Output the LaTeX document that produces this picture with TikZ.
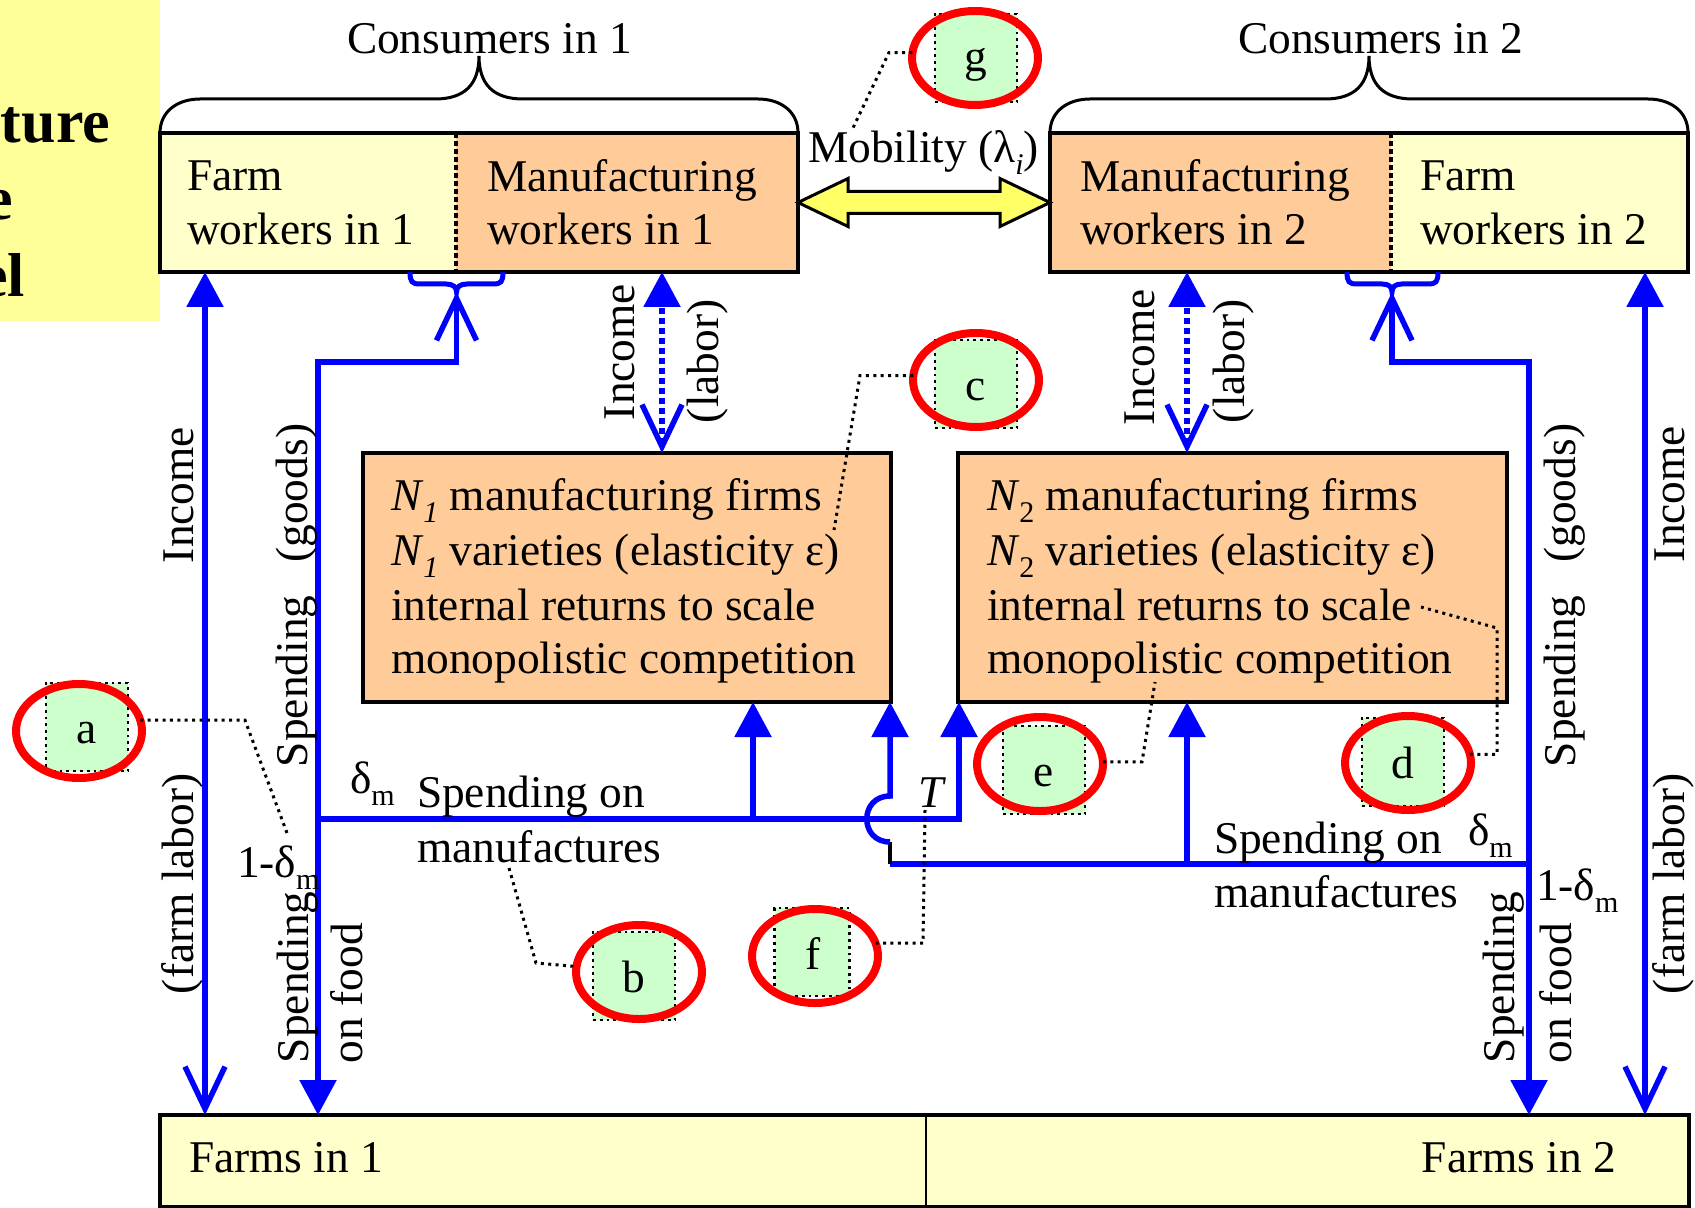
\documentclass[tikz,border=0pt]{standalone}
\usepackage{fontspec}
\setmainfont{Liberation Serif}
\usetikzlibrary{arrows.meta,calc,fit,shapes.geometric}
\definecolor{bl}{HTML}{0000FF}
\definecolor{rd}{HTML}{FF0000}
\definecolor{farmc}{HTML}{FFFFCC}
\definecolor{mfgc}{HTML}{FFCC99}
\definecolor{titlec}{HTML}{FFFF99}
\definecolor{grn}{HTML}{CCFFCC}
\definecolor{mobc}{HTML}{FFFF66}
\newcommand\mysub[1]{\raisebox{-6pt}{\fontsize{15pt}{15pt}\selectfont #1}}
\begin{document}
\begin{tikzpicture}[x=0.5pt,y=-0.5pt,
  every node/.style={inner sep=0pt, outer sep=0pt},
  fnt/.style={font=\fontsize{22.7pt}{27pt}\selectfont},
  tfnt/.style={font=\fontsize{31pt}{37pt}\selectfont\bfseries},
  lbl/.style={fnt, anchor=base west},
  lblr/.style={fnt, anchor=base east},
  vlbl/.style={fnt, anchor=base west, rotate=90},
  boxl/.style={draw=black, line width=2pt},
  divl/.style={draw=black, line width=2pt, dash pattern=on 2.5pt off 1.5pt},
  brc/.style={draw=black, line width=1.5pt},
  bline/.style={draw=bl, line width=2.75pt},
  dshaft/.style={dash pattern=on 3pt off 2pt},
  ftip/.tip={Triangle[length=17.5pt,width=18pt]},
  vtip/.tip={Straight Barb[length=21pt,width=20pt]},
  mob/.style={draw=black, fill=mobc, line width=1.5pt, line join=miter},
  leader/.style={draw=black, line width=1.5pt, dash pattern=on 1.5pt off 2.2pt},
  sq/.style={draw=black, fill=grn, line width=1.4pt, dash pattern=on 1.4pt off 2pt, minimum width=41pt, minimum height=44pt},
  ring/.style={ellipse, draw=rd, line width=4pt, minimum width=63pt, minimum height=47pt}
]
\useasboundingbox (0,0) rectangle (1695,1208);

% helper coordinates
\coordinate (xIL) at (205,0);
\coordinate (xSL) at (318,0);
\coordinate (xD1) at (662,0);
\coordinate (xA1) at (753,0);
\coordinate (xH) at (890,0);
\coordinate (xA2) at (959,0);
\coordinate (xB2) at (1187,0);
\coordinate (xSR) at (1529,0);
\coordinate (xIR) at (1645,0);
\coordinate (yS) at (0,362);
\coordinate (yU) at (0,819);
\coordinate (yL) at (0,864);
\coordinate (bt1) at (456.5,292);
\coordinate (bt2) at (1392,292);
\coordinate (ct1) at (479,56);
\coordinate (ct2) at (1369,56);

% title box
\node[fit={(0,0) (160,321)}, fill=titlec] (title) {};
\node[tfnt, anchor=base east] (tt1) at (110,143) {ture};
\node[tfnt, anchor=base east] (tt2) at (13,220) {e};
\node[tfnt, anchor=base east] (tt3) at (25,297) {el};

% consumers in 1
\node[fit={(160,133) (456,272)}, fill=farmc] (fw1) {};
\node[fit={(456,133) (798,272)}, fill=mfgc] (mw1) {};
\draw[boxl] (fw1.north west) rectangle (mw1.south east);
\draw[divl] (mw1.north west) -- (mw1.south west);
% consumers in 2
\node[fit={(1050,133) (1391,272)}, fill=mfgc] (mw2) {};
\node[fit={(1391,133) (1688,272)}, fill=farmc] (fw2) {};
\draw[boxl] (mw2.north west) rectangle (fw2.south east);
\draw[divl] (mw2.north east) -- (mw2.south east);

\node[lbl] (tf1a) at (187,191) {Farm};
\node[lbl] (tf1b) at (187,245) {workers in 1};
\node[lbl] (tm1a) at (487,192) {Manufacturing};
\node[lbl] (tm1b) at (487,245) {workers in 1};
\node[lbl] (tm2a) at (1080,192) {Manufacturing};
\node[lbl] (tm2b) at (1080,245) {workers in 2};
\node[lbl] (tf2a) at (1420,191) {Farm};
\node[lbl] (tf2b) at (1420,245) {workers in 2};

% braces
\draw[brc] (fw1.north west) .. controls +(0,-22) and +(-22,0) .. (200,99) -- (435,99)
  .. controls +(30,0) and +(0,28) .. (ct1) .. controls +(0,28) and +(-30,0) .. (523,99)
  -- (758,99) .. controls +(22,0) and +(0,-22) .. (mw1.north east);
\draw[brc] (mw2.north west) .. controls +(0,-22) and +(-22,0) .. (1090,99) -- (1325,99)
  .. controls +(30,0) and +(0,28) .. (ct2) .. controls +(0,28) and +(-30,0) .. (1413,99)
  -- (1648,99) .. controls +(22,0) and +(0,-22) .. (fw2.north east);
\node[lbl] (cons1) at (347,54) {Consumers in 1};
\node[lbl] (cons2) at (1238,54) {Consumers in 2};

% mobility arrow
\draw[mob] (mw1.east) -- ++(50,-24) -- ++(0,13) -- ($(mw2.west)+(-50,-11)$) -- ++(0,-13)
  -- (mw2.west) -- ++(-50,24) -- ++(0,-13) -- ($(mw1.east)+(50,11)$) -- ++(0,13) -- cycle;
\node[lbl] (mobt) at (808,163) {Mobility (λ\mysub{\textit{i}})};

% firms
\node[fit={(363,453) (891,702)}, fill=mfgc, draw=black, line width=1.8pt] (n1) {};
\node[fit={(958,453) (1507,702)}, fill=mfgc, draw=black, line width=1.8pt] (n2) {};
\node[lbl] (n1a) at (391,510) {\textit{N}\mysub{\textit{1}} manufacturing firms};
\node[lbl] (n1b) at (391,565) {\textit{N}\mysub{\textit{1}} varieties (elasticity ε)};
\node[lbl] (n1c) at (391,620) {internal returns to scale};
\node[lbl] (n1d) at (391,673) {monopolistic competition};
\node[lbl] (n2a) at (987,510) {\textit{N}\mysub{2} manufacturing firms};
\node[lbl] (n2b) at (987,565) {\textit{N}\mysub{2} varieties (elasticity ε)};
\node[lbl] (n2c) at (987,620) {internal returns to scale};
\node[lbl] (n2d) at (987,673) {monopolistic competition};

% farms
\node[fit={(160,1115) (926,1207)}, fill=farmc] (fa1) {};
\node[fit={(926,1115) (1689,1207)}, fill=farmc] (fa2) {};
\draw[boxl] (fa1.north west) rectangle (fa2.south east);
\draw[black, line width=1pt] (fa1.north east) -- (fa1.south east);
\node[lbl] (fat1) at (189,1172) {Farms in 1};
\node[lblr] (fat2) at (1616,1172) {Farms in 2};

% blue flows
\draw[bline, {vtip}-{ftip}] (fa1.north -| xIL) -- (fw1.south -| xIL);
\draw[bline, {vtip}-{ftip}] (bt1) -- (bt1 |- yS) -- (xSL |- yS) -- (fa1.north -| xSL);
\draw[bline, line width=2.5pt] (410,272) .. controls (410,282) and (412,284) .. (420,284) -- (446,284)
  .. controls (453,284) and (456.5,287) .. (bt1) .. controls (456.5,287) and (460,284) .. (467,284)
  -- (493,284) .. controls (501,284) and (503,282) .. (503,272);
\draw[bline, dshaft, {vtip}-{ftip}] (n1.north -| xD1) -- (mw1.south -| xD1);
\draw[bline, -{ftip}] (xSL |- yU) -- (xA2 |- yU) -- (n2.south -| xA2);
\draw[bline, -{ftip}] (xA1 |- yU) -- (n1.south -| xA1);
\draw[bline] (xSR |- yL) -- (xH |- yL);
\draw[black, line width=1.6pt] (xH |- yL) -- ++(0,-22);
\draw[bline, -{ftip}] ($(xH |- yU)+(0,23)$) .. controls +(-31,0) and +(-31,0) .. ($(xH |- yU)+(0,-23)$) -- (n1.south -| xH);
\draw[bline, -{ftip}] (xB2 |- yL) -- (n2.south -| xB2);
\draw[bline, {vtip}-{ftip}] (bt2) -- (bt2 |- yS) -- (xSR |- yS) -- (fa2.north -| xSR);
\draw[bline, line width=2.5pt] (1347,272) .. controls (1347,282) and (1349,284) .. (1357,284) -- (1382,284)
  .. controls (1389,284) and (1392,287) .. (bt2) .. controls (1392,287) and (1395,284) .. (1402,284)
  -- (1428,284) .. controls (1436,284) and (1438,282) .. (1438,272);
\draw[bline, {vtip}-{ftip}] (fa2.north -| xIR) -- (fw2.south -| xIR);
\draw[bline, dshaft, {vtip}-{ftip}] (n2.north -| xB2) -- (mw2.south -| xB2);

% flow labels
\node[lbl] (dm1) at (350,793) {δ\mysub{m}};
\node[lbl] (sm1a) at (417,807) {Spending on};
\node[lbl] (sm1b) at (417,862) {manufactures};
\node[lbl] (om1) at (237,877) {1-δ\mysub{m}};
\node[lbl] (dm2) at (1468,845) {δ\mysub{m}};
\node[lbl] (sm2a) at (1214,853) {Spending on};
\node[lbl] (sm2b) at (1214,907) {manufactures};
\node[lbl] (om2) at (1536,900) {1-δ\mysub{m}};
\node[fnt, anchor=base] (tT) at (932,807) {\textit{T}};

\node[vlbl] (incL) at (193,563) {Income};
\node[vlbl] (flL) at (193,994) {(farm labor)};
\node[vlbl] (sgL) at (307,767) {Spending\hspace{16.5pt}(goods)};
\node[vlbl] (sfL1) at (308,1063) {Spending};
\node[vlbl] (sfL2) at (362,1063) {on food};
\node[vlbl] (incC1) at (634,420) {Income};
\node[vlbl] (labC1) at (718,423) {(labor)};
\node[vlbl] (incC2) at (1154,425) {Income};
\node[vlbl] (labC2) at (1244,423) {(labor)};
\node[vlbl] (sgR) at (1575,767) {Spending\hspace{16.5pt}(goods)};
\node[vlbl] (incR) at (1684,562) {Income};
\node[vlbl] (flR) at (1684,994) {(farm labor)};
\node[vlbl] (sfR1) at (1514,1063) {Spending};
\node[vlbl] (sfR2) at (1571,1063) {on food};

% callouts
\node[sq] (sqa) at (87,727) {};
\node[ring] (ca) at (79,731) {};
\node[fnt, anchor=base] (la) at (87,743) {a};
\node[sq] (sqb) at (634,976) {};
\node[ring] (cb) at (639,972) {};
\node[fnt, anchor=base] (lb) at (634,992) {b};
\node[sq] (sqc) at (976,384) {};
\node[ring] (cc) at (976,380) {};
\node[fnt, anchor=base] (lc) at (976,400) {c};
\node[sq] (sqd) at (1403,762) {};
\node[ring] (cd) at (1408,763) {};
\node[fnt, anchor=base] (ld) at (1403,778) {d};
\node[sq] (sqe) at (1044,770) {};
\node[ring] (ce) at (1040,764) {};
\node[fnt, anchor=base] (le) at (1044,786) {e};
\node[sq, minimum width=37.5pt] (sqf) at (812,952) {};
\node[ring] (cf) at (815,956) {};
\node[fnt, anchor=base] (lf) at (813,969) {f};
\node[sq] (sqg) at (976,58) {};
\node[ring] (cg) at (975,58) {};
\node[fnt, anchor=base] (lg) at (976,72) {g};

% leaders
\coordinate (ea) at (287,833);
\coordinate (eb) at (509,868);
\coordinate (ec) at (834,530);
\coordinate (ed) at (1421,607);
\coordinate (ee) at (1155,682);
\coordinate (ef) at (925,810);
\coordinate (eg) at (852,130);
\draw[leader] (ca.10) -- (ca.10 -| 245,0) -- (ea);
\draw[leader] (eb) -- (536,963) -- (cb.175);
\draw[leader] (cc.176) -- (cc.176 -| 860,0) -- (ec);
\draw[leader] (cd.8) -- (cd.8 -| 1497,0) -- (1497,628) -- (ed);
\draw[leader] (ce.2) -- (ce.2 -| 1142,0) -- (ee);
\draw[leader] (cf.12) -- (cf.12 -| 923,0) -- (ef);
\draw[leader] (cg.175) -- (cg.175 -| 889,0) -- (eg);
\end{tikzpicture}
\end{document}
